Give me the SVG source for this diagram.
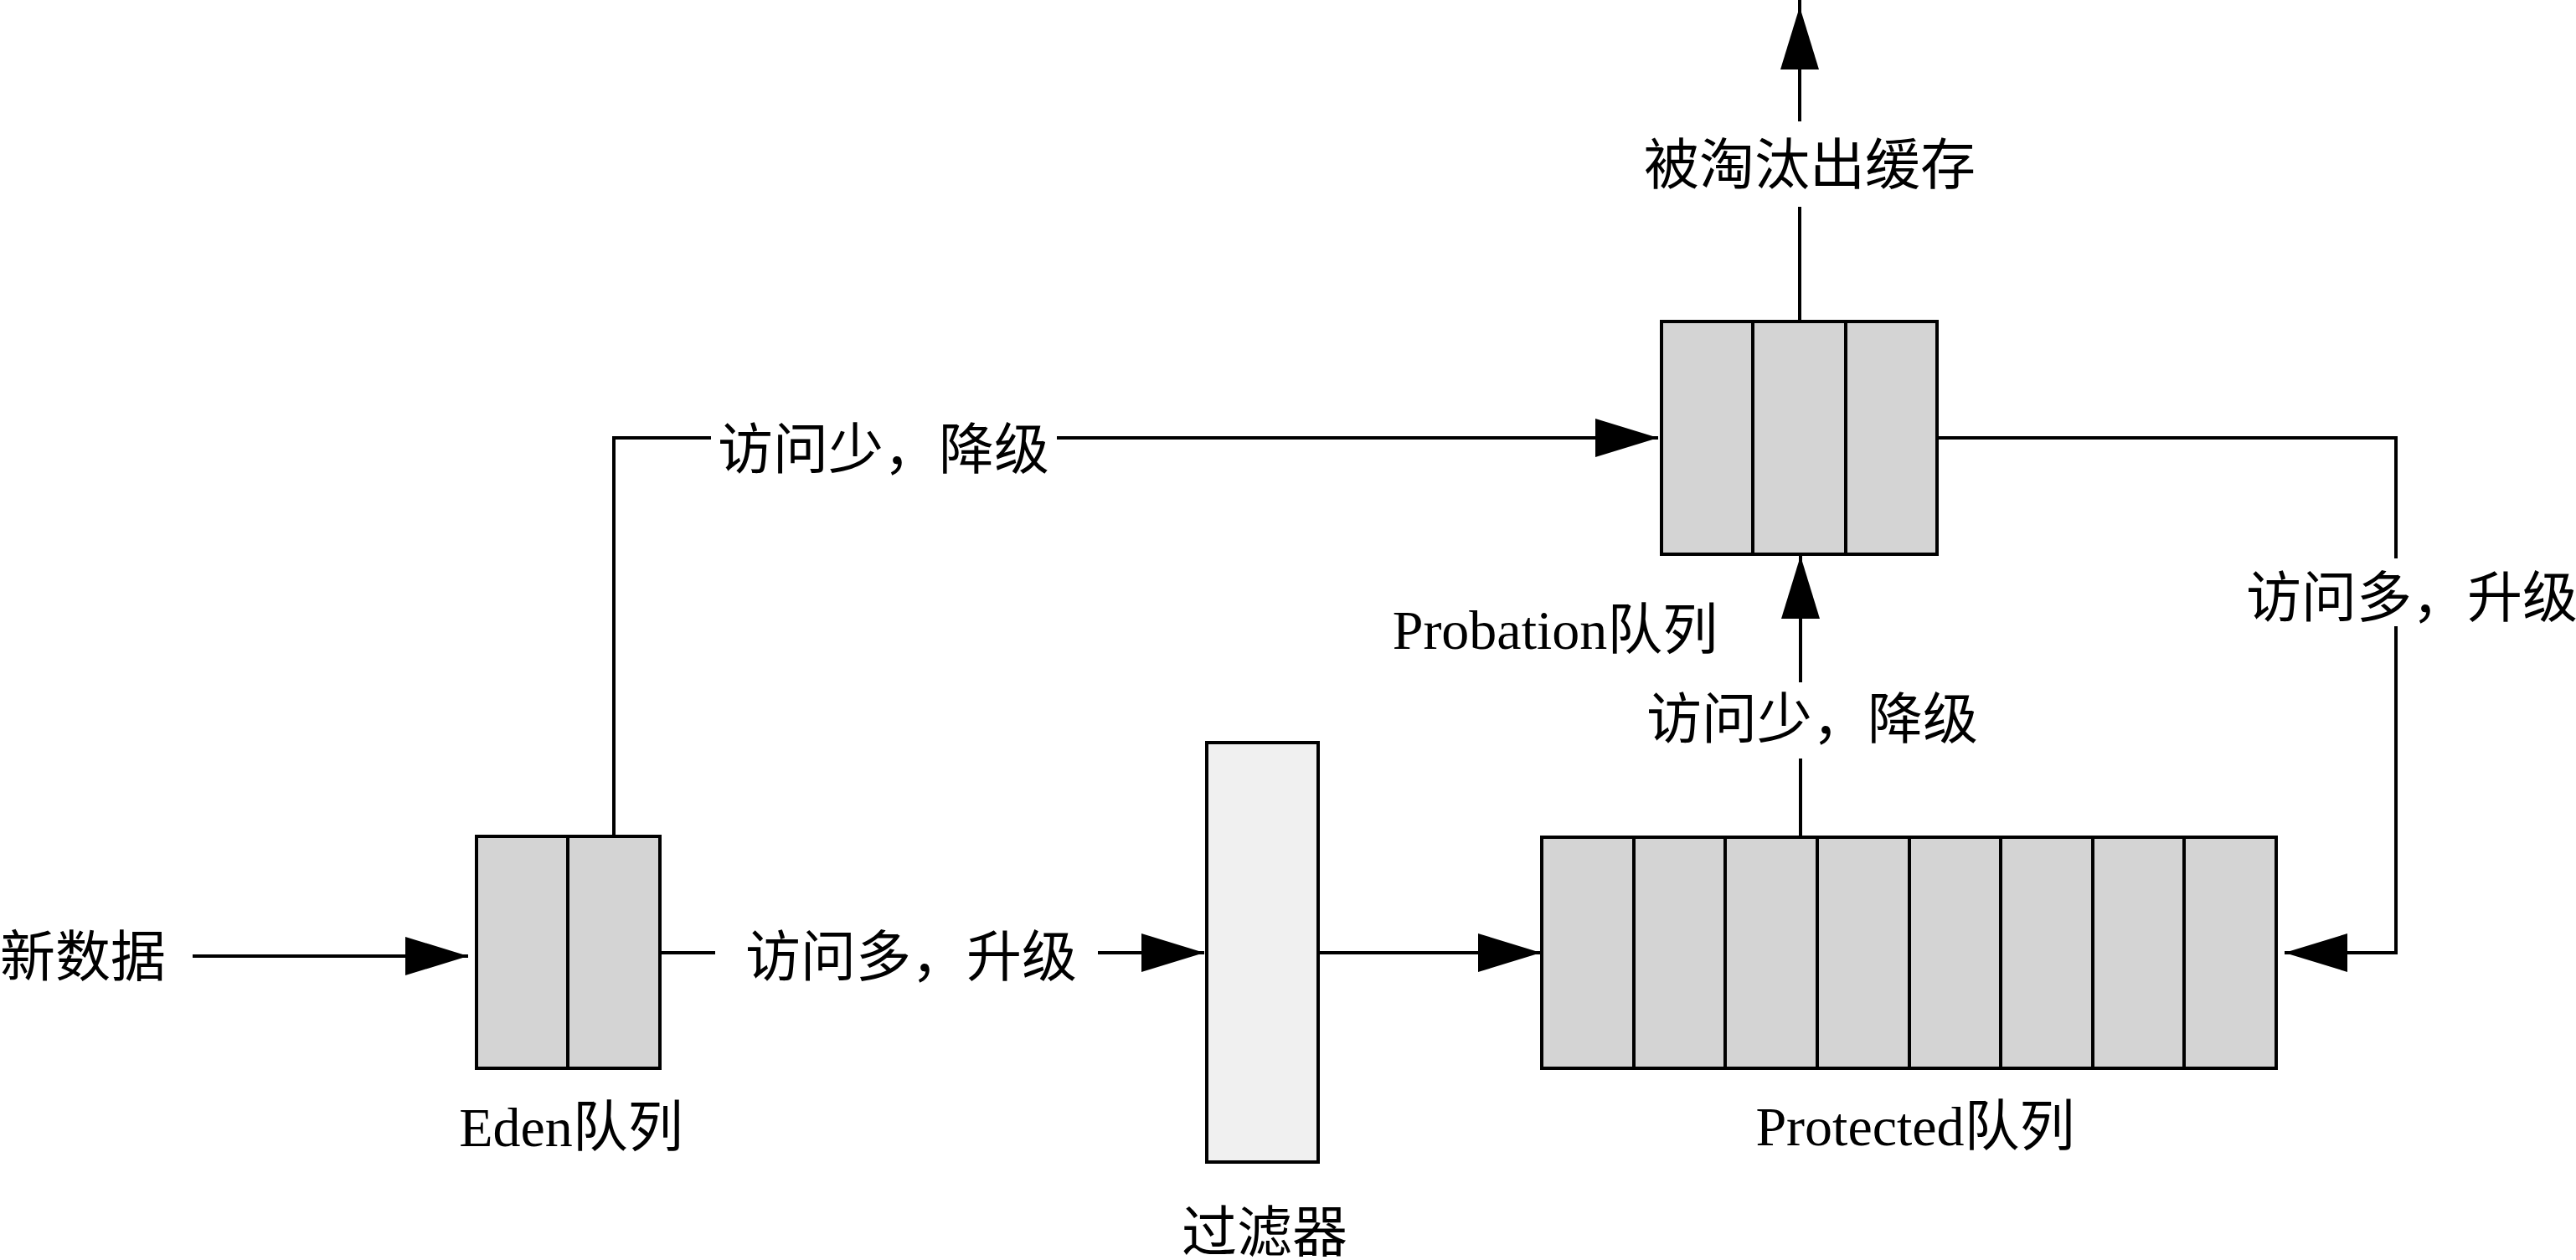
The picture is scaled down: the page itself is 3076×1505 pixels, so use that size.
<svg xmlns="http://www.w3.org/2000/svg" width="3076" height="1505" viewBox="0 0 3076 1505">
<style>
  .box { fill: #d4d4d4; stroke: #000; stroke-width: 4; }
  .filter { fill: #f0f0f0; stroke: #000; stroke-width: 4; }
  .div { stroke: #000; stroke-width: 4; fill: none; }
  .conn { stroke: #000; stroke-width: 4; fill: none; }
  .arrow { marker-end: url(#ah); }
  text { font-family: "Liberation Serif", "Noto Sans CJK SC", serif; font-size: 66px; fill: #000; }
  .mid { text-anchor: middle; }
</style>
<defs>
  <marker id="ah" markerUnits="userSpaceOnUse" markerWidth="78" markerHeight="48" refX="75" refY="23" orient="auto" overflow="visible">
    <path d="M0,0 L75,23 L0,46 Z" fill="#000"/>
  </marker>
</defs>
<rect width="3076" height="1505" fill="#fff"/>

<g id="connectors">
  <path class="conn arrow" d="M230,1142 H559"/>
  <path class="conn" d="M788,1138 H854"/>
  <path class="conn arrow" d="M1311,1138 H1438"/>
  <path class="conn arrow" d="M1574,1138 H1840"/>
  <path class="conn" d="M733,999 V523 H849"/>
  <path class="conn arrow" d="M1262,523 H1980"/>
  <path class="conn" d="M2313,523 H2861 V667"/>
  <path class="conn arrow" d="M2861,748 V1138 H2728"/>
  <path class="conn" d="M2170,1005 H2150 V906"/>
  <path class="conn arrow" d="M2150,815 V664"/>
  <path class="conn" d="M2149,384 V247"/>
  <path class="conn arrow" d="M2149,145 V8"/>
  <path class="conn" d="M2149,10 V0"/>
</g>

<g id="new-data">
  <text x="0" y="1166">新数据</text>
</g>

<g id="eden">
  <rect class="box" x="569" y="999" width="219" height="277"/>
  <line class="div" x1="678" y1="999" x2="678" y2="1276"/>
  <text class="mid" x="682" y="1369">Eden队列</text>
</g>

<g id="filter">
  <rect class="filter" x="1441" y="887" width="133" height="501"/>
  <text x="1411" y="1495">过滤器</text>
</g>

<g id="protected">
  <rect class="box" x="1841" y="1000" width="877" height="276"/>
  <path class="div" d="M1951,1000 V1276 M2060,1000 V1276 M2170,1000 V1276 M2280,1000 V1276 M2389,1000 V1276 M2499,1000 V1276 M2608,1000 V1276"/>
  <text class="mid" x="2287" y="1368">Protected队列</text>
</g>

<g id="probation">
  <rect class="box" x="1984" y="384" width="329" height="278"/>
  <path class="div" d="M2093,384 V662 M2204,384 V662"/>
  <text class="mid" x="1857" y="775">Probation队列</text>
</g>

<g id="labels">
  <text x="1963" y="220">被淘汰出缓存</text>
  <text x="857" y="560">访问少，降级</text>
  <text x="1966" y="882">访问少，降级</text>
  <text x="2682" y="737">访问多，升级</text>
  <text x="890" y="1166">访问多，升级</text>
</g>
</svg>
